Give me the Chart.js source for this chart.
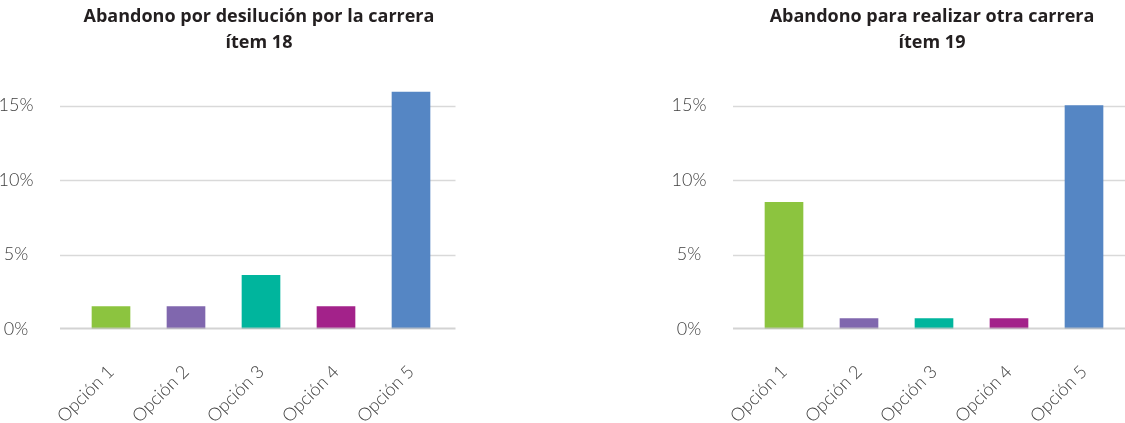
<!DOCTYPE html>
<html>
<head>
<meta charset="utf-8">
<script src="https://cdn.jsdelivr.net/npm/chart.js@4.4.1/dist/chart.umd.min.js"></script>
<style>
  html, body { margin: 0; padding: 0; background: #fff; width: 1125px; height: 423px; overflow: hidden; }
  .panel { position: absolute; top: 0; height: 423px; }
  .panel canvas { position: absolute; left: 0; top: 0; }
  .title {
    position: absolute; top: 2px; left: 39px; width: 440px;
    text-align: center; font-family: "Open Sans", Lato, sans-serif; font-weight: 700;
    font-size: 18px; line-height: 26px; color: #231f20;
  }
</style>
</head>
<body>
<div class="panel" style="left:0;width:470px">
  <canvas id="desilusionChart" width="470" height="423"></canvas>
  <div class="title">Abandono por desilución por la carrera<br>ítem 18</div>
</div>
<div class="panel" style="left:673px;width:452px">
  <canvas id="otraCarreraChart" width="452" height="423"></canvas>
  <div class="title">Abandono para realizar otra carrera<br>ítem 19</div>
</div>
<script>
const categories = ['Opción 1', 'Opción 2', 'Opción 3', 'Opción 4', 'Opción 5'];
const desilusionValues = [1.5, 1.5, 3.6, 1.5, 15.9];
const otraCarreraValues = [8.5, 0.7, 0.7, 0.7, 15.0];
const yTicks = [0, 5, 10, 15];
const barColors = ['#8cc43f', '#8067ae', '#00b59d', '#a3228a', '#5586c4'];

// horizontal grid lines a bit wider than the category area, like the original
const gridPlugin = {
  id: 'wideGrid',
  beforeDatasetsDraw(chart) {
    const { ctx, chartArea, scales: { y } } = chart;
    ctx.save();
    ctx.strokeStyle = '#d9d9d9';
    ctx.lineWidth = 1.5;
    y.ticks.forEach(t => {
      if (t.value === 0) return;
      const py = Math.round(y.getPixelForValue(t.value)) + 0.5;
      ctx.beginPath();
      ctx.moveTo(chartArea.left - 13.5, py);
      ctx.lineTo(chartArea.right + 7, py);
      ctx.stroke();
    });
    ctx.restore();
  },
  afterDatasetsDraw(chart) {
    const { ctx, chartArea, scales: { y } } = chart;
    const py = y.getPixelForValue(0) - 0.5;
    ctx.save();
    ctx.strokeStyle = 'rgba(200,200,200,0.8)';
    ctx.lineWidth = 2;
    ctx.beginPath();
    ctx.moveTo(chartArea.left - 13.5, py);
    ctx.lineTo(chartArea.right + 7, py);
    ctx.stroke();
    ctx.restore();
  }
};

function makeChart(canvas, values, rightPad) {
  return new Chart(canvas, {
    type: 'bar',
    data: {
      labels: categories,
      datasets: [{
        data: values,
        backgroundColor: barColors,
        borderWidth: 0,
        barThickness: 38
      }]
    },
    options: {
      responsive: false,
      animation: false,
      layout: {
        padding: { top: 90.6, right: rightPad, left: 0, bottom: 0 }
      },
      plugins: {
        legend: { display: false },
        tooltip: { enabled: false }
      },
      scales: {
        x: {
          grid: { display: false },
          border: { display: false },
          ticks: {
            minRotation: 45,
            maxRotation: 45,
            padding: 24,
            color: '#404040',
            font: { family: 'Lato', weight: '300', size: 18 }
          },
          afterFit(scale) { scale.height = 94; }
        },
        y: {
          min: 0,
          max: 16,
          grid: { display: false },
          border: { display: false },
          afterBuildTicks(scale) { scale.ticks = yTicks.map(v => ({ value: v })); },
          ticks: {
            crossAlign: 'center',
            padding: 32,
            color: '#404040',
            font: { family: 'Lato', weight: '300', size: 18 },
            callback: v => v + '%'
          },
          afterFit(scale) { scale.width = 73.5; }
        }
      }
    },
    plugins: [gridPlugin]
  });
}

makeChart(document.getElementById('desilusionChart'), desilusionValues, 21.5);
makeChart(document.getElementById('otraCarreraChart'), otraCarreraValues, 3.5);
</script>
</body>
</html>
